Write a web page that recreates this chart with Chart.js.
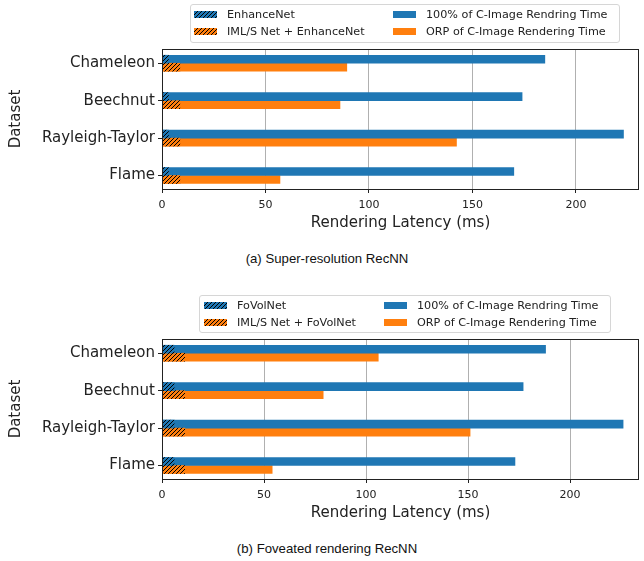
<!DOCTYPE html>
<html lang="en">

<head>
  <meta charset="UTF-8">
  <script src="https://cdn.jsdelivr.net/npm/chart.js@4"></script>
  <title>RecNN Rendering Latency</title>
  <style>
    body { margin: 0; background: #fff; }
    #page { position: relative; width: 644px; height: 561px; overflow: hidden; }
    .plot { position: absolute; left: 0; width: 644px; height: 240px; }
    .legend { position: absolute; border: 1px solid #d6d6d6; border-radius: 3px; background: rgba(255,255,255,0.8); z-index: 2; }
    .sw { position: absolute; width: 23px; height: 7px; }
    .lt { position: absolute; font: 11.2px "DejaVu Sans"; color: #222; line-height: 13px; white-space: nowrap; }
    .caption { position: absolute; left: 0; width: 654px; text-align: center; font: 13.2px "Liberation Sans"; color: #111; }
  </style>
</head>

<body>
  <div id="page">
    <div class="legend" id="legendA" style="left:190px; top:4px; width:428px; height:37px;"></div>
    <div class="plot" style="top:0"><canvas id="srChart"></canvas></div>
    <div class="caption" style="top:251px">(a) Super-resolution RecNN</div>
    <div class="legend" id="legendB" style="left:199px; top:295px; width:410px; height:36px;"></div>
    <div class="plot" style="top:290px"><canvas id="fovChart"></canvas></div>
    <div class="caption" style="top:541px">(b) Foveated rendering RecNN</div>
  </div>

  <script>
    const categories = ['Chameleon', 'Beechnut', 'Rayleigh-Taylor', 'Flame'];
    const xTicks = [0, 50, 100, 150, 200];

    // (a) super-resolution
    const srNet = [3.1, 3.1, 3.1, 3.1];
    const srImlNet = [8.6, 8.6, 8.6, 8.6];
    const srFull = [185, 174, 223, 170];
    const srOrp = [89.3, 86, 142.3, 57];

    // (b) foveated rendering
    const fovNet = [5.9, 5.9, 5.9, 5.9];
    const fovImlNet = [11.1, 11.1, 11.1, 11.1];
    const fovFull = [188, 177, 226, 173];
    const fovOrp = [106, 79, 151, 54];

    const BLUE = '#1f77b4';
    const ORANGE = '#ff7f0e';

    function hatchTile(color) {
      const c = document.createElement('canvas');
      c.width = 4; c.height = 4;
      const g = c.getContext('2d');
      g.fillStyle = color;
      g.fillRect(0, 0, 4, 4);
      g.strokeStyle = '#000';
      g.lineWidth = 1;
      g.beginPath();
      g.moveTo(0, 4); g.lineTo(4, 0);
      g.moveTo(-1, 1); g.lineTo(1, -1);
      g.moveTo(3, 5); g.lineTo(5, 3);
      g.stroke();
      return c;
    }
    const blueTile = hatchTile(BLUE);
    const orangeTile = hatchTile(ORANGE);

    function points(arr) {
      return arr.map((v, i) => ({ x: v, y: i }));
    }

    function makeLegend(id, labels, colX, textDx) {
      const el = document.getElementById(id);
      const swatches = [
        'url(' + blueTile.toDataURL() + ')',
        'url(' + orangeTile.toDataURL() + ')',
        BLUE, ORANGE
      ];
      const rows = [6, 23];
      labels.forEach((txt, i) => {
        const col = i < 2 ? 0 : 1;
        const row = i % 2;
        const sw = document.createElement('div');
        sw.className = 'sw';
        sw.style.left = colX[col] + 'px';
        sw.style.top = (rows[row]) + 'px';
        if (i < 2) sw.style.backgroundImage = swatches[i];
        else sw.style.background = swatches[i];
        el.appendChild(sw);
        const t = document.createElement('div');
        t.className = 'lt';
        t.style.left = (colX[col] + textDx) + 'px';
        t.style.top = (rows[row] - 3) + 'px';
        t.textContent = txt;
        el.appendChild(t);
      });
    }

    const frame = {
      id: 'frame',
      afterDraw(chart) {
        const a = chart.chartArea;
        const ctx = chart.ctx;
        ctx.save();
        ctx.strokeStyle = '#222';
        ctx.lineWidth = 1;
        ctx.strokeRect(Math.round(a.left) + 0.5, Math.round(a.top) + 0.5,
          Math.round(a.right - a.left) - 1, Math.round(a.bottom - a.top));
        ctx.restore();
      }
    };

    function drawChart(canvasId, netLabel, net, imlNet, full, orp, xMax) {
      const ctx = document.getElementById(canvasId).getContext('2d');
      const blueHatch = ctx.createPattern(blueTile, 'repeat');
      const orangeHatch = ctx.createPattern(orangeTile, 'repeat');
      return new Chart(ctx, {
        type: 'bar',
        data: {
          datasets: [
            { label: netLabel, data: points(net), backgroundColor: blueHatch, stack: 'a' },
            { label: 'IML/S Net + ' + netLabel, data: points(imlNet), backgroundColor: orangeHatch, stack: 'b' },
            { label: '100% of C-Image Rendring Time', data: points(full), backgroundColor: BLUE, stack: 'a' },
            { label: 'ORP of C-Image Rendering Time', data: points(orp), backgroundColor: ORANGE, stack: 'b' }
          ]
        },
        options: {
          indexAxis: 'y',
          responsive: false,
          animation: false,
          barThickness: 8,
          borderWidth: 0,
          layout: { padding: { top: 49, right: 5, bottom: 8, left: 0 } },
          plugins: { legend: { display: false }, tooltip: { enabled: false } },
          scales: {
            x: {
              type: 'linear',
              stacked: false,
              min: 0,
              max: xMax,
              afterBuildTicks: s => { s.ticks = xTicks.map(v => ({ value: v })); },
              afterFit: s => { s.height = 43; s.paddingLeft = 0; s.paddingRight = 0; },
              border: { display: false },
              grid: { color: '#b0b0b0', lineWidth: 1, tickColor: '#222', tickLength: 4 },
              ticks: { font: { family: 'DejaVu Sans', size: 11 }, color: '#222', padding: 6, maxRotation: 0 },
              title: {
                display: true,
                text: 'Rendering Latency (ms)',
                font: { family: 'DejaVu Sans', size: 15 },
                color: '#222',
                padding: 0
              }
            },
            y: {
              type: 'linear',
              stacked: true,
              reverse: true,
              offset: false,
              min: -0.38,
              max: 3.36,
              afterBuildTicks: s => { s.ticks = categories.map((c, i) => ({ value: i })); },
              afterFit: s => { s.width = 162; s.paddingTop = 0; s.paddingBottom = 0; },
              border: { display: false },
              grid: { offset: false, drawOnChartArea: false, tickColor: '#222', tickLength: 4 },
              ticks: {
                font: { family: 'DejaVu Sans', size: 15 },
                color: '#222',
                padding: 3,
                callback: v => categories[v]
              },
              title: {
                display: true,
                text: 'Dataset',
                font: { family: 'DejaVu Sans', size: 15 },
                color: '#222',
                padding: { top: 7, bottom: 0 }
              }
            }
          }
        },
        plugins: [frame]
      });
    }

    document.querySelectorAll('canvas').forEach(c => { c.width = 644; c.height = 240; });

    drawChart('srChart', 'EnhanceNet', srNet, srImlNet, srFull, srOrp, 230.5);
    drawChart('fovChart', 'FoVolNet', fovNet, fovImlNet, fovFull, fovOrp, 233.8);

    makeLegend('legendA', ['EnhanceNet', 'IML/S Net + EnhanceNet',
      '100% of C-Image Rendring Time', 'ORP of C-Image Rendering Time'], [3, 202], 33);
    makeLegend('legendB', ['FoVolNet', 'IML/S Net + FoVolNet',
      '100% of C-Image Rendring Time', 'ORP of C-Image Rendering Time'], [4, 184], 33);
  </script>
</body>

</html>
